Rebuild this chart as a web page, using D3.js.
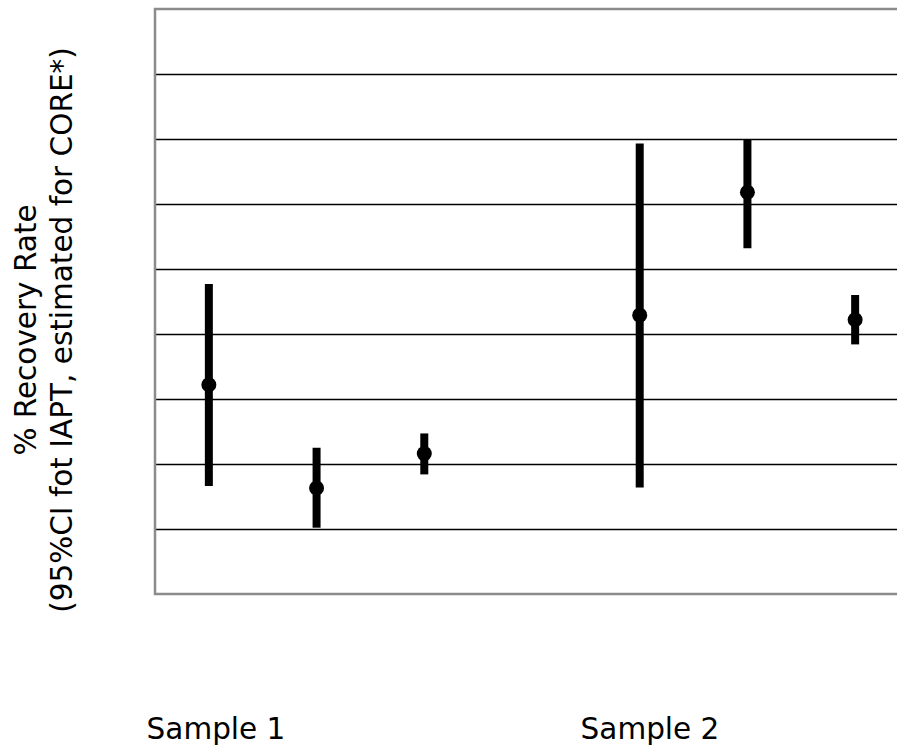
<!DOCTYPE html>
<html>
<head>
<meta charset="utf-8">
<script src="https://cdn.jsdelivr.net/npm/d3@7"></script>
<style>
  html, body { margin: 0; padding: 0; background: #fff; }
  svg { display: block; }
  text { font-family: "DejaVu Sans", Verdana, sans-serif; fill: #000; }
</style>
</head>
<body>
<svg id="chart" width="897" height="746"></svg>
<script>
// ---- data ----
const categories = ["S1a", "S1b", "S1c", "gap", "S2a", "S2b", "S2c"];
const lowValues  = [16.6, 10.2, 18.4, null, 16.4, 53.2, 38.4];
const midValues  = [32.2, 16.3, 21.6, null, 42.9, 61.8, 42.2];
const highValues = [47.7, 22.5, 24.7, null, 69.3, 70.0, 46.0];
const gridTicks  = [10, 20, 30, 40, 50, 60, 70, 80];
const groupLabels = ["Sample 1", "Sample 2"];
const yTitle = ["% Recovery Rate", "(95%CI fot IAPT, estimated for CORE*)"];

const svg = d3.select("#chart");
const plotLeft = 155, plotRight = 909, plotTop = 9, plotBottom = 594;

const x = d3.scaleBand().domain(categories).range([plotLeft, plotRight]).padding(0);
const y = d3.scaleLinear().domain([0, 90]).range([plotBottom, plotTop]);

// gridlines
svg.append("g")
  .attr("transform", `translate(${plotLeft},0)`)
  .call(d3.axisLeft(y).tickValues(gridTicks).tickSize(-(plotRight - plotLeft)).tickFormat(""))
  .call(g => g.select(".domain").remove())
  .call(g => g.selectAll(".tick line").attr("stroke", "#000").attr("stroke-width", 1.3));

// frame (left, top, bottom)
const frame = d3.path();
frame.moveTo(plotRight, y(90)); frame.lineTo(plotLeft, y(90)); frame.lineTo(plotLeft, y(0)); frame.lineTo(plotRight, y(0));
svg.append("path").attr("d", frame.toString())
  .attr("fill", "none").attr("stroke", "#8c8c8c").attr("stroke-width", 2.5);

const data = categories.map((c, i) => ({ c, lo: lowValues[i], mid: midValues[i], hi: highValues[i] }))
  .filter(d => d.mid != null);

const cx = d => x(d.c) + x.bandwidth() / 2;

svg.append("g").selectAll("line").data(data).join("line")
  .attr("x1", cx).attr("x2", cx)
  .attr("y1", d => y(d.lo)).attr("y2", d => y(d.hi))
  .attr("stroke", "#000").attr("stroke-width", 8);

svg.append("g").selectAll("circle").data(data).join("circle")
  .attr("cx", cx).attr("cy", d => y(d.mid)).attr("r", 7.5)
  .attr("fill", "#000");

// group labels
const gx = d3.scalePoint().domain(groupLabels).range([216, 650]);
svg.append("g").selectAll("text").data(groupLabels).join("text")
  .attr("x", d => gx(d)).attr("y", 739)
  .attr("text-anchor", "middle")
  .style("font-size", "29.5px")
  .text(d => d);

// y title
const yt = svg.append("text")
  .attr("transform", "translate(0,330) rotate(-90)")
  .attr("text-anchor", "middle")
  .style("font-size", "29.5px");
yt.selectAll("tspan").data(yTitle).join("tspan")
  .attr("x", 0).attr("y", (d, i) => 36 + i * 35.5)
  .text(d => d);
</script>
</body>
</html>
